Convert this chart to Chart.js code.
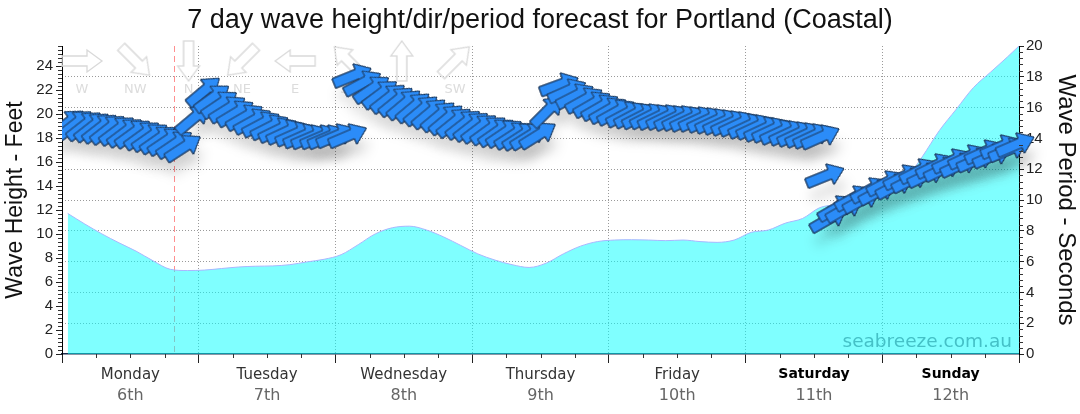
<!DOCTYPE html>
<html>
<head>
<meta charset="utf-8">
<title>Wave forecast</title>
<script src="https://cdn.jsdelivr.net/npm/chart.js@4.4.1/dist/chart.umd.min.js"></script>
<style>
  html, body { margin: 0; padding: 0; background: #fff; }
</style>
</head>
<body>
<canvas id="chart" width="1080" height="414"></canvas>
<script>
// --- data ---

// day labels under the x axis (x axis is hours from Monday 00:00)
const dayNames = ['Monday', 'Tuesday', 'Wednesday', 'Thursday', 'Friday', 'Saturday', 'Sunday'];
const dayDates = ['6th', '7th', '8th', '9th', '10th', '11th', '12th'];
const weekendDays = ['Saturday', 'Sunday'];

// current time marker (red dashed line)
const nowHour = 19.7;

// wave period, seconds (cyan area, right axis)
const periodHour = [1, 4, 7, 10, 13, 16, 19, 22, 25, 28, 31, 34, 37, 40, 43, 46, 49, 52, 55, 58,
  61, 64, 67, 70, 73, 76, 79, 82, 85, 88, 91, 94, 97, 100, 103, 106, 109, 112, 115, 118,
  121, 124, 127, 130, 133, 136, 139, 142, 145, 148, 151, 154, 157, 160, 163, 166, 168];
const periodSec = [9.13, 8.44, 7.8, 7.22, 6.68, 6.05, 5.5, 5.42, 5.45, 5.55, 5.65, 5.7, 5.72, 5.8, 5.98, 6.15, 6.45, 7.1, 7.8, 8.2,
  8.3, 8.05, 7.6, 7.05, 6.5, 6.1, 5.8, 5.62, 5.9, 6.5, 7.0, 7.3, 7.4, 7.42, 7.4, 7.36, 7.4, 7.3, 7.25, 7.4,
  7.9, 8.05, 8.5, 8.8, 9.5, 9.7, 9.9, 10.1, 10.3, 11.3, 12.8, 14.5, 15.9, 17.3, 18.3, 19.3, 20.0];

// wave arrows: time (hours), height in feet (left axis), direction waves come from (degrees)
const arrowHour = [
  0.9, 2.3, 3.9, 5.3, 6.7, 8.1, 9.7, 11.1, 12.5, 14.1, 15.5, 16.9, 18.3, 19.8, 21.3,
  23.0, 24.9,
  26.4, 27.7, 29.1, 30.5, 32.1, 33.5, 35.0, 36.5, 37.9, 39.3, 40.9, 42.3, 43.7, 45.3, 46.6, 48.1, 50.2,
  51.0, 52.8, 54.4, 55.9, 57.3, 58.7, 60.1, 61.7, 63.1, 64.5, 66.1, 67.5, 68.9, 70.5, 71.9, 73.3, 74.9, 76.3, 77.7, 79.2, 80.6, 82.0, 83.6,
  85.2,
  87.3, 88.7, 90.1, 91.7, 93.1, 94.5, 95.9, 97.3, 98.9, 100.3, 101.7, 103.1, 104.5, 106.0, 107.4, 108.8, 110.2,
  111.7, 113.2, 114.6, 116.0, 117.4, 118.8, 120.4, 121.8, 123.2, 124.6, 126.0, 127.6, 129.0, 130.4, 131.8, 133.2,
  134.0,
  134.6, 136.0, 137.4, 139.0, 140.4, 141.8, 143.2, 144.6, 146.2, 147.6, 149.0, 150.4, 151.8, 153.3, 154.7, 156.2,
  157.6, 159.0, 160.5, 161.9, 163.3, 164.7, 166.1, 167.4
];
const arrowFt = [
  19.2, 19.15, 19.05, 18.95, 18.85, 18.75, 18.65, 18.5, 18.4, 18.25, 18.1, 17.9, 17.75, 17.5, 17.2,
  19.6, 21.9,
  21.33, 20.83, 20.42, 20.08, 19.75, 19.42, 19.17, 18.92, 18.67, 18.5, 18.33, 18.17, 18.08, 18.08, 18.08, 18.17, 18.17,
  23.17, 22.58, 22.08, 21.67, 21.33, 21.08, 20.83, 20.58, 20.33, 20.08, 19.83, 19.58, 19.33, 19.17, 19.0, 18.83, 18.67, 18.5, 18.42, 18.25, 18.17, 18.17, 18.25,
  20.25,
  22.42, 21.92, 21.5, 21.17, 20.83, 20.58, 20.33, 20.17, 20.0, 19.92, 19.83, 19.83, 19.75, 19.75, 19.67, 19.67, 19.58,
  19.58, 19.5, 19.42, 19.33, 19.25, 19.17, 19.0, 18.92, 18.75, 18.67, 18.5, 18.42, 18.33, 18.25, 18.17, 18.08,
  14.83,
  11.25, 12.17, 12.08, 13.0, 12.83, 13.67, 13.5, 14.25, 14.0, 14.75, 14.5, 15.25, 14.92, 15.67, 15.42, 16.08,
  15.75, 16.42, 16.17, 16.83, 16.5, 17.25, 17.0, 17.42
];
const arrowDir = [
  232, 232, 232, 232, 232, 232, 233, 233, 234, 234, 235, 235, 236, 236, 237,
  230, 230,
  234, 236, 238, 239, 240, 241, 242, 243, 244, 245, 246, 246, 247, 247, 247, 247, 247,
  248, 242, 236, 233, 232, 231, 230, 230, 230, 230, 230, 230, 231, 232, 232, 233, 234, 235, 236, 237, 237, 238, 238,
  225,
  250, 246, 243, 241, 240, 240, 240, 241, 242, 242, 243, 243, 244, 244, 244, 244, 245,
  245, 245, 245, 245, 245, 245, 245, 245, 245, 245, 245, 245, 245, 245, 245, 246,
  248,
  240, 240, 240, 241, 241, 241, 242, 242, 242, 243, 243, 243, 244, 244, 244, 245,
  245, 245, 246, 246, 246, 247, 247, 247
];

// compass key in the top left corner
const compassLabels = ['W', 'NW', 'N', 'NE', 'E', 'SE', 'S', 'SW'];
const compassDir = [270, 315, 0, 45, 90, 135, 180, 225];

// axis ticks
const hourTicks = [0, 12, 24, 36, 48, 60, 72, 84, 96, 108, 120, 132, 144, 156, 168];
const heightTicks = [0, 2, 4, 6, 8, 10, 12, 14, 16, 18, 20, 22, 24];
const periodTicks = [0, 2, 4, 6, 8, 10, 12, 14, 16, 18, 20];

// --- arrow pictures ---
function makeArrow(fill, stroke, lw) {
  const c = document.createElement('canvas');
  c.width = 46; c.height = 46;
  const g = c.getContext('2d');
  g.translate(23, 23);
  g.beginPath();
  g.moveTo(-20, -5); g.lineTo(5, -5); g.lineTo(5, -11); g.lineTo(20, 0);
  g.lineTo(5, 11); g.lineTo(5, 5); g.lineTo(-20, 5); g.closePath();
  if (fill) { g.fillStyle = fill; g.fill(); }
  g.lineJoin = 'miter';
  g.lineWidth = lw; g.strokeStyle = stroke; g.stroke();
  return c;
}
const blueArrow = makeArrow('#2b8cf8', '#1b3556', 1);
const keyArrow = makeArrow(null, '#d9d9d9', 1.3);

function isWeekend(c) {
  const v = c.tick ? c.tick.value : -1;
  return v % 24 === 12 && weekendDays.includes(dayNames[(v - 12) / 24]);
}

// shadows go under all arrows: the "shadow" copy is drawn with a canvas shadow first
const arrowShadow = {
  id: 'arrowShadow',
  beforeDatasetDraw(chart, args) {
    if (chart.data.datasets[args.index].label !== 'shadow') return;
    const ctx = chart.ctx;
    ctx.save();
    ctx.shadowColor = 'rgba(0,0,0,0.11)';
    ctx.shadowBlur = 12;
    ctx.shadowOffsetX = 4;
    ctx.shadowOffsetY = 14;
  },
  afterDatasetDraw(chart, args) {
    if (chart.data.datasets[args.index].label !== 'shadow') return;
    chart.ctx.restore();
  }
};

// now line + compass key, under the data
const backdrop = {
  id: 'backdrop',
  beforeDatasetsDraw(chart) {
    const { ctx, chartArea: a, scales } = chart;
    const x = Math.round(scales.x.getPixelForValue(nowHour)) + 0.5;
    ctx.save();
    ctx.strokeStyle = '#ff8f8f';
    ctx.lineWidth = 1;
    ctx.setLineDash([6, 4]);
    ctx.beginPath(); ctx.moveTo(x, a.top); ctx.lineTo(x, a.bottom); ctx.stroke();
    ctx.restore();

    ctx.save();
    ctx.font = '13px "DejaVu Sans"';
    ctx.fillStyle = '#dcdcdc';
    ctx.textAlign = 'center';
    ctx.textBaseline = 'middle';
    compassLabels.forEach((lab, i) => {
      const cx = a.left + 20 + i * 53.3;
      const cy = a.top + 15;
      ctx.save();
      ctx.translate(cx, cy);
      ctx.rotate((compassDir[i] - 270) * Math.PI / 180);
      ctx.drawImage(keyArrow, -23, -23);
      ctx.restore();
      ctx.fillText(lab, cx, a.top + 44);
    });
    ctx.restore();
  },
  afterDatasetsDraw(chart) {
    const { ctx, chartArea: a } = chart;
    ctx.save();
    ctx.font = '18.5px "DejaVu Sans"';
    ctx.fillStyle = '#45c1c7';
    ctx.textAlign = 'right';
    ctx.textBaseline = 'alphabetic';
    ctx.fillText('seabreeze.com.au', a.right - 7, a.bottom - 7);
    ctx.restore();
  }
};

// short minor ticks on all three axes
const minorTicks = {
  id: 'minorTicks',
  afterDraw(chart) {
    const { ctx, chartArea: a, scales } = chart;
    ctx.save();
    ctx.strokeStyle = '#333';
    ctx.lineWidth = 1;
    ctx.beginPath();
    for (let h = 6; h < 168; h += 6) {
      if (h % 24 === 0) continue;
      const x = Math.round(scales.x.getPixelForValue(h)) + 0.5;
      ctx.moveTo(x, a.bottom); ctx.lineTo(x, a.bottom + 4);
    }
    for (let k = 1; k / 3 < scales.yL.max; k++) {
      if (k % 6 === 0) continue;
      const y = Math.round(scales.yL.getPixelForValue(k / 3)) + 0.5;
      ctx.moveTo(a.left - 4, y); ctx.lineTo(a.left, y);
    }
    for (let k = 1; k < 50; k++) {
      if (k % 5 === 0) continue;
      const y = Math.round(scales.yR.getPixelForValue(k * 0.4)) + 0.5;
      ctx.moveTo(a.right, y); ctx.lineTo(a.right + 4, y);
    }
    ctx.stroke();
    ctx.restore();
  }
};

const arrowPoints = arrowHour.map((h, i) => ({ x: h, y: arrowFt[i] }));
const periodPoints = periodHour.map((h, i) => ({ x: h, y: periodSec[i] }));
const arrowRotation = c => arrowDir[c.dataIndex] - 270;

Chart.defaults.font.family = 'Liberation Sans';

new Chart(document.getElementById('chart'), {
  type: 'scatter',
  data: {
    datasets: [
      {
        label: 'arrows',
        data: arrowPoints,
        yAxisID: 'yL',
        pointStyle: blueArrow,
        pointRadius: 20,
        pointRotation: arrowRotation,
        clip: { left: 0, top: false, right: false, bottom: 0 },
        order: 0
      },
      {
        label: 'shadow',
        data: arrowPoints,
        yAxisID: 'yL',
        pointStyle: blueArrow,
        pointRadius: 20,
        pointRotation: arrowRotation,
        clip: { left: 0, top: false, right: false, bottom: 0 },
        order: 1
      },
      {
        type: 'line',
        label: 'period',
        data: periodPoints,
        yAxisID: 'yR',
        showLine: true,
        fill: 'origin',
        backgroundColor: 'rgba(0,255,255,0.5)',
        borderColor: '#a9b6ff',
        borderWidth: 1,
        pointRadius: 0,
        cubicInterpolationMode: 'monotone',
        order: 2
      }
    ]
  },
  options: {
    responsive: false,
    animation: false,
    events: [],
    layout: { padding: 0 },
    plugins: {
      legend: { display: false },
      tooltip: { enabled: false },
      title: {
        display: true,
        text: '7 day wave height/dir/period forecast for Portland (Coastal)',
        font: { family: 'Liberation Sans', size: 27, weight: 'normal' },
        color: '#111',
        padding: { top: 4, bottom: 9.6 }
      }
    },
    scales: {
      x: {
        type: 'linear', position: 'bottom', weight: 0, min: 0, max: 168,
        afterBuildTicks: s => { s.ticks = hourTicks.map(v => ({ value: v })); },
        afterFit: s => { s.height = 30; },
        ticks: {
          autoSkip: false, maxRotation: 0, padding: 3,
          callback: v => (v % 24 === 12 ? dayNames[(v - 12) / 24] : ''),
          font: c => ({ family: 'DejaVu Sans', size: isWeekend(c) ? 14 : 15, weight: isWeekend(c) ? 'bold' : 'normal' }),
          color: c => (isWeekend(c) ? '#000' : '#333')
        },
        grid: {
          color: c => (c.tick && c.tick.value % 24 === 0 && c.tick.value > 0 && c.tick.value < 168) ? '#9a9a9a' : 'rgba(0,0,0,0)',
          tickColor: c => (c.tick && c.tick.value % 24 === 0) ? '#222' : 'rgba(0,0,0,0)',
          tickLength: 9
        },
        border: { color: '#1c2c4c', width: 1.5, dash: [1, 2] }
      },
      x2: {
        type: 'linear', position: 'bottom', weight: 1, min: 0, max: 168,
        afterBuildTicks: s => { s.ticks = hourTicks.map(v => ({ value: v })); },
        afterFit: s => { s.height = 30; },
        ticks: {
          autoSkip: false, maxRotation: 0, padding: 2,
          callback: v => (v % 24 === 12 ? dayDates[(v - 12) / 24] : ''),
          font: { family: 'DejaVu Sans', size: 16 },
          color: '#666'
        },
        grid: { display: false, drawTicks: false },
        border: { display: false }
      },
      yL: {
        type: 'linear', position: 'left', min: 0, max: 25.667,
        afterBuildTicks: s => { s.ticks = heightTicks.map(v => ({ value: v })); },
        afterFit: s => { s.width = 62; },
        ticks: { autoSkip: false, padding: 3, font: { size: 15 }, color: '#222' },
        grid: { drawOnChartArea: false, tickLength: 6, tickColor: '#222' },
        border: { color: '#000', width: 1 },
        title: {
          display: true, text: 'Wave Height - Feet',
          font: { family: 'Liberation Sans', size: 23 }, color: '#111',
          padding: { top: 2, bottom: 0 }
        }
      },
      yR: {
        type: 'linear', position: 'right', min: 0, max: 20,
        afterBuildTicks: s => { s.ticks = periodTicks.map(v => ({ value: v })); },
        afterFit: s => { s.width = 61; },
        ticks: { autoSkip: false, padding: 2, font: { size: 15 }, color: '#222' },
        grid: {
          color: c => (c.tick && c.tick.value > 0 && c.tick.value < 20) ? '#9a9a9a' : 'rgba(0,0,0,0)',
          tickLength: 5, tickColor: '#222'
        },
        border: { color: '#000', width: 1, dash: [1, 2] },
        title: {
          display: true, text: 'Wave Period - Seconds',
          font: { family: 'Liberation Sans', size: 24 }, color: '#111',
          padding: { top: 0, bottom: 0 }
        }
      }
    }
  },
  plugins: [arrowShadow, backdrop, minorTicks]
});
</script>
</body>
</html>
